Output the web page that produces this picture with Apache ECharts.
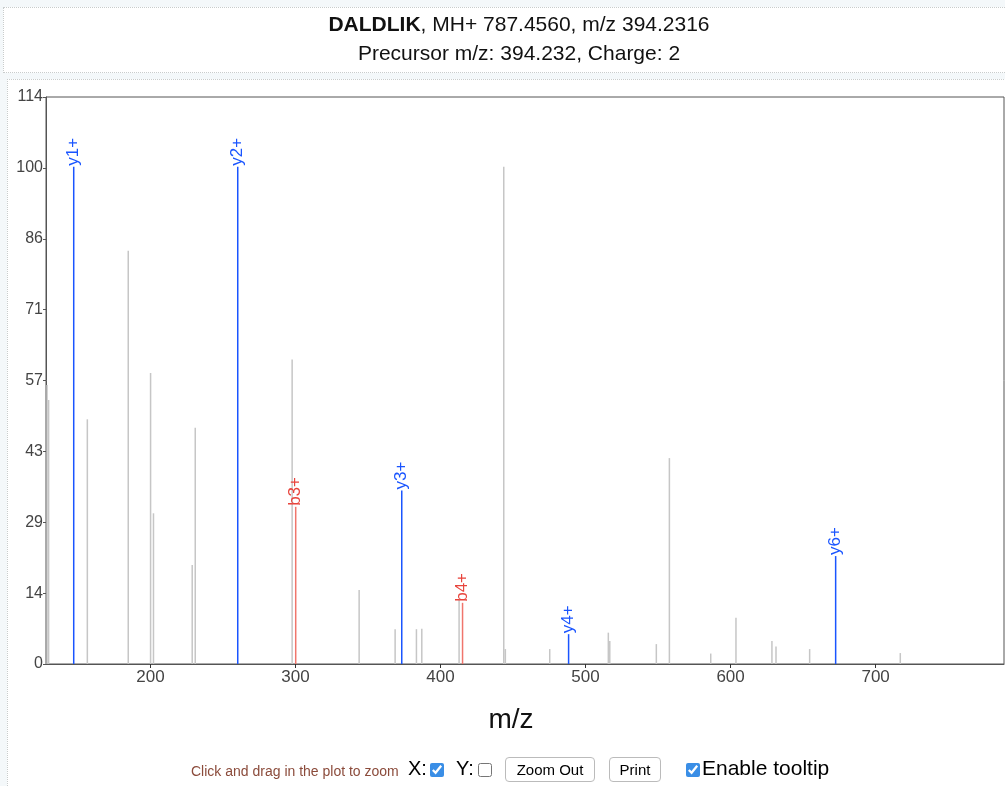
<!DOCTYPE html>
<html>
<head>
<meta charset="utf-8">
<script src="https://cdn.jsdelivr.net/npm/echarts@6/dist/echarts.min.js"></script>
<style>
  body { margin: 0; background: #f4f8fa; font-family: "Liberation Sans", Arial, sans-serif; }
  #titleBox { position: absolute; left: 3px; top: 7px; width: 1010px; height: 64px; background: #fff; border: 1px dotted #c8cccc; }
  #plotBox { position: absolute; left: 7px; top: 79px; width: 1010px; height: 720px; background: #fff; border-top: 1px dotted #c8cccc; border-left: 1px dotted #c8cccc; }
  #chart { position: absolute; left: 0; top: 0; width: 1005px; height: 786px; }
  #controls { position: absolute; left: 0; top: 756px; width: 1005px; height: 28px; font-size: 20px; }
  #controls span, #controls input, #controls button { position: absolute; }
  .hint { font-size: 14px; color: #8b4b3b; top: 7px; }
  button { font-family: "Liberation Sans", Arial, sans-serif; font-size: 15px; background: #fff; border: 1px solid #bbb; border-radius: 4px; height: 25px; padding: 0; }
  input[type=checkbox] { margin: 0; width: 14px; height: 14px; accent-color: #3a8ee6; }
</style>
</head>
<body>
<div id="titleBox"></div>
<div id="plotBox"></div>
<div id="chart"></div>
<div id="controls">
  <span class="hint" style="left:191px">Click and drag in the plot to zoom</span>
  <span style="left:408px;top:1px">X:</span>
  <input type="checkbox" checked style="left:430px;top:7px">
  <span style="left:456px;top:1px">Y:</span>
  <input type="checkbox" style="left:478px;top:7px">
  <button style="left:505px;top:1px;width:90px">Zoom Out</button>
  <button style="left:609px;top:1px;width:52px">Print</button>
  <input type="checkbox" checked style="left:686px;top:7px">
  <span style="left:702px;top:0px;font-size:21px">Enable tooltip</span>
</div>
<script>
// unlabeled peaks (m/z, relative intensity)
var peakMz = [128.7, 129.8, 156.5, 184.7, 200.1, 202.1, 228.8, 230.9, 297.7, 343.9,
  368.7, 383.4, 387.1, 412.8, 443.6, 444.7, 475.3, 515.7, 516.7, 548.8,
  557.8, 586.3, 603.7, 628.5, 631.3, 654.5, 717.0];
var peakInt = [56.1, 53.1, 49.2, 83.1, 58.5, 30.3, 19.9, 47.5, 61.2, 14.9,
  7.0, 7.0, 7.1, 12.9, 100, 3.0, 3.0, 6.3, 4.6, 4.0,
  41.4, 2.1, 9.3, 4.6, 3.5, 3.0, 2.2];

// matched fragment ions
var ionLabels = ['y1+', 'y2+', 'b3+', 'y3+', 'b4+', 'y4+', 'y6+'];
var ionMz = [147.11, 260.20, 300.16, 373.28, 415.19, 488.31, 672.43];
var ionInt = [100, 100, 31.6, 34.9, 12.3, 6.0, 21.7];

var xTicks = [200, 300, 400, 500, 600, 700];

var chart = echarts.init(document.getElementById('chart'));

var peakData = peakMz.map(function (m, i) { return [m, peakInt[i]]; });
var ionData = ionMz.map(function (m, i) { return [m, ionInt[i], ionLabels[i]]; });

function renderPeak(params, api) {
  var top = api.coord([api.value(0), api.value(1)]);
  var base = api.coord([api.value(0), 0]);
  return {
    type: 'line',
    shape: { x1: top[0], y1: base[1], x2: top[0], y2: top[1] },
    style: { stroke: '#c6c6c6', lineWidth: 1.5 }
  };
}

function renderIon(params, api) {
  var top = api.coord([api.value(0), api.value(1)]);
  var base = api.coord([api.value(0), 0]);
  var label = ionData[params.dataIndex][2];
  var isB = label.charAt(0) == 'b';
  return {
    type: 'group',
    children: [{
      type: 'line',
      shape: { x1: top[0], y1: base[1], x2: top[0], y2: top[1] },
      style: { stroke: isB ? '#f0756c' : '#1a55ff', lineWidth: 1.5 }
    }, {
      type: 'text',
      x: top[0], y: top[1] - 1,
      rotation: Math.PI / 2,
      style: {
        text: label,
        fill: isB ? '#e8443c' : '#1a55ff',
        font: '17px "Liberation Sans", Arial, sans-serif',
        align: 'left',
        verticalAlign: 'middle'
      }
    }]
  };
}

var option = {
  animation: false,
  title: [{
    text: '{b|DALDLIK}, MH+ 787.4560, m/z 394.2316',
    left: 514, top: 10, textAlign: 'center',
    textStyle: {
      fontFamily: 'Liberation Sans', fontSize: 21, fontWeight: 'normal', color: '#111',
      rich: { b: { fontFamily: 'Liberation Sans', fontSize: 21, fontWeight: 'bold', color: '#111' } }
    }
  }, {
    text: 'Precursor m/z: 394.232, Charge: 2',
    left: 514, top: 39, textAlign: 'center',
    textStyle: { fontFamily: 'Liberation Sans', fontSize: 21, fontWeight: 'normal', color: '#111' }
  }],
  grid: {
    left: 46, right: 1, top: 97, bottom: 122,
    show: true, borderColor: '#555', borderWidth: 1, backgroundColor: 'transparent'
  },
  xAxis: {
    type: 'value',
    min: 128, max: 788.5,
    name: 'm/z', nameLocation: 'middle', nameGap: 42,
    nameTextStyle: { fontFamily: 'Liberation Sans', fontSize: 28, color: '#111', padding: [0, 28, 0, 0] },
    axisLine: { lineStyle: { color: '#555' } },
    axisTick: { show: true, length: 4, customValues: xTicks, lineStyle: { color: '#333' } },
    axisLabel: { customValues: xTicks, fontFamily: 'Liberation Sans', fontSize: 17, color: '#444', margin: 5 },
    splitLine: { show: false }
  },
  yAxis: {
    type: 'value',
    min: 0, max: 114, interval: 14.25,
    axisLine: { show: true, lineStyle: { color: '#555' } },
    axisTick: { show: true, length: 3, lineStyle: { color: '#555' } },
    axisLabel: {
      fontFamily: 'Liberation Sans', fontSize: 16, color: '#444', margin: 3,
      formatter: function (v) { return Math.round(v); }
    },
    splitLine: { show: false }
  },
  series: [{
    type: 'custom',
    renderItem: renderPeak,
    data: peakData
  }, {
    type: 'custom',
    renderItem: renderIon,
    data: ionData
  }]
};
chart.setOption(option);
</script>
</body>
</html>
